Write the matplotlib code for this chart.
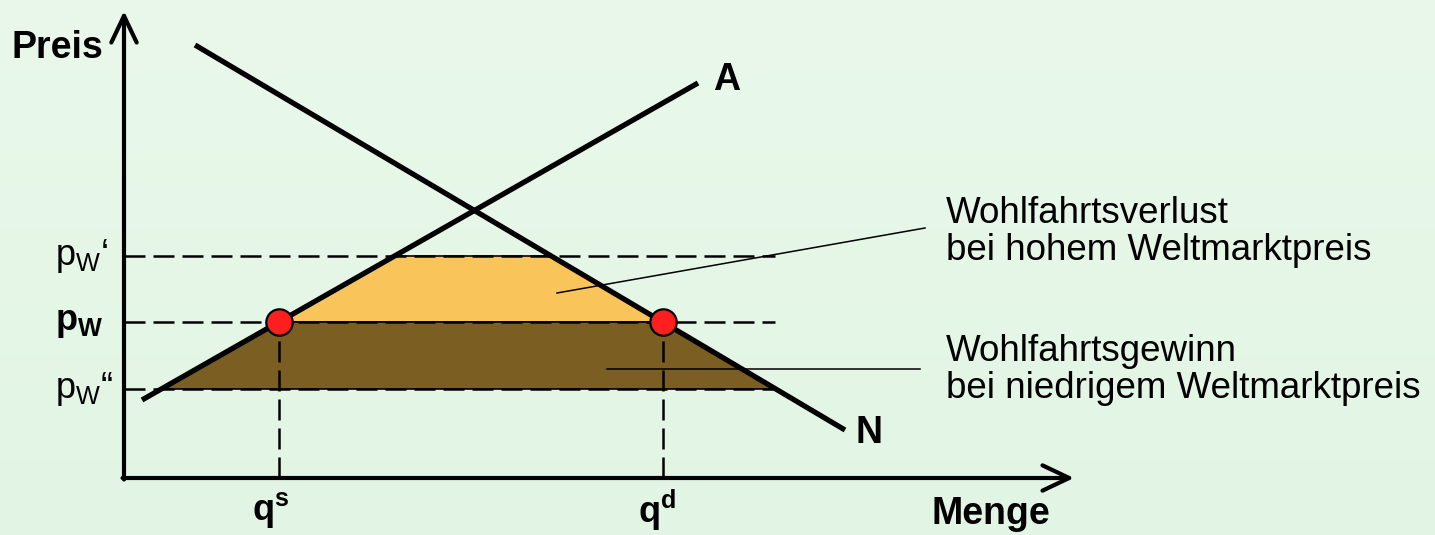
import numpy as np
import matplotlib.pyplot as plt
from matplotlib.colors import LinearSegmentedColormap

plt.rcParams['font.family'] = ['Liberation Sans', 'DejaVu Sans']
plt.rcParams['mathtext.fontset'] = 'custom'
plt.rcParams['mathtext.rm'] = 'Liberation Sans'
plt.rcParams['mathtext.bf'] = 'Liberation Sans:bold'
plt.rcParams['mathtext.it'] = 'Liberation Sans:italic'

# curves (quantity, price) in diagram units
supply_q = [18, 574]
supply_p = [78, 395]
demand_q = [71, 721]
demand_p = [433, 48]

# world market prices
p_high = 222   # p_W'
p_world = 156  # p_W
p_low = 89     # p_W''
p_labels = ['$\\mathrm{p}_\\mathrm{W}$\u2018', '$\\mathbf{p}_\\mathbf{W}$', '$\\mathrm{p}_\\mathrm{W}$\u201c']

q_max = 651    # end of the dashed price lines
label_loss = 'Wohlfahrtsverlust\nbei hohem Weltmarktpreis'
label_gain = 'Wohlfahrtsgewinn\nbei niedrigem Weltmarktpreis'


def q_supply(p):
    return np.interp(p, supply_p, supply_q)


def q_demand(p):
    return np.interp(p, demand_p[::-1], demand_q[::-1])


fig = plt.figure(figsize=(14.35, 5.35), dpi=100)
ax = fig.add_axes([0, 0, 1, 1])
ax.set_xlim(-124, 1311)
ax.set_ylim(-57, 478)
ax.axis('off')

# light green background
grad = np.linspace(0, 1, 256)[:, None]
bg_cmap = LinearSegmentedColormap.from_list('bg', ['#E2F5E4', '#E9F8EB'])
ax.imshow(grad, extent=(-124, 1311, -57, 478), origin='lower', cmap=bg_cmap,
          aspect='auto', zorder=0)

# welfare areas
qs = q_supply(p_world)
qd = q_demand(p_world)
loss_x = [q_supply(p_world), q_supply(p_high), q_demand(p_high), q_demand(p_world)]
loss_y = [p_world, p_high, p_high, p_world]
ax.fill(loss_x, loss_y, color='#F9C55B', ec='black', lw=1.2, zorder=2)
gain_x = [q_supply(p_low), q_supply(p_world), q_demand(p_world), q_demand(p_low)]
gain_y = [p_low, p_world, p_world, p_low]
ax.fill(gain_x, gain_y, color='#7B5E22', ec='black', lw=1.2, zorder=2)

# dashed helper lines
dash = dict(color='black', lw=1.8, dashes=(8.4, 3.2), zorder=3)
for p in [p_high, p_world, p_low]:
    ax.plot([0, q_max], [p, p], **dash)
ax.plot([qs, qs], [0, p_world], **dash)
ax.plot([qd, qd], [0, p_world], **dash)

# supply and demand
ax.plot(supply_q, supply_p, color='black', lw=3.8, solid_capstyle='butt', zorder=4)
ax.plot(demand_q, demand_p, color='black', lw=3.8, solid_capstyle='butt', zorder=4)
ax.plot([qs, qd], [p_world, p_world], 'o', ms=19, mfc='#FF1F1F', mec='black', mew=1.6, zorder=5)

# pointer lines
ax.plot([433, 801], [185, 250], color='black', lw=1.1, zorder=4)
ax.plot([483, 796], [109, 109], color='black', lw=1.1, zorder=4)

# axes with arrows
arr = dict(arrowstyle='->,head_length=0.8,head_width=0.38', lw=3, color='black',
           mutation_scale=24, shrinkA=0, shrinkB=0)
ax.annotate('', xy=(0, 467), xytext=(0, -1.5), arrowprops=arr, zorder=6)
ax.annotate('', xy=(950, 0), xytext=(-1.5, 0), arrowprops=arr, zorder=6)

fs_bold = 27
fs = 26.5
ax.text(-112, 430, 'Preis', fontsize=fs_bold, fontweight='bold', va='center', ha='left')
ax.text(808, -36, 'Menge', fontsize=fs_bold, fontweight='bold', va='center', ha='left')
ax.text(589, 398, 'A', fontsize=fs_bold, fontweight='bold', va='center', ha='left')
ax.text(731, 45, 'N', fontsize=fs_bold, fontweight='bold', va='center', ha='left')
ax.text(qs - 8, -32, '$\\mathbf{q}^\\mathbf{s}$', fontsize=26, va='center', ha='center')
ax.text(qd - 6, -32, '$\\mathbf{q}^\\mathbf{d}$', fontsize=26, va='center', ha='center')
for p, lab in zip([p_high, p_world, p_low], p_labels):
    ax.text(-69, p, lab, fontsize=26, va='center', ha='left')

ax.text(822, 246, label_loss, fontsize=fs, va='center', ha='left', linespacing=1.1)
ax.text(822, 108, label_gain, fontsize=fs, va='center', ha='left', linespacing=1.1)

fig.savefig('out.png', dpi=100)
